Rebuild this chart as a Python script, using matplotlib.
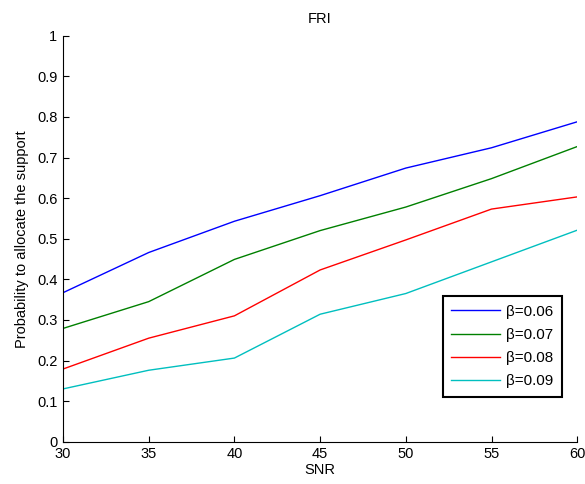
import matplotlib
matplotlib.use('Agg')
from matplotlib import pyplot as plt

snr = [30, 35, 40, 45, 50, 55, 60]
p_006 = [0.367, 0.466, 0.543, 0.606, 0.674, 0.724, 0.788]
p_007 = [0.279, 0.345, 0.449, 0.520, 0.578, 0.648, 0.727]
p_008 = [0.179, 0.255, 0.310, 0.423, 0.497, 0.573, 0.603]
p_009 = [0.130, 0.176, 0.206, 0.314, 0.365, 0.443, 0.521]
labels = ['β=0.06', 'β=0.07', 'β=0.08', 'β=0.09']
colors = ['#0000ff', '#008000', '#ff0000', '#00bfbf']

plt.rcParams['font.family'] = ['Liberation Sans', 'DejaVu Sans']
plt.rcParams['font.size'] = 10.5

fig = plt.figure(figsize=(5.85, 4.84), dpi=100)
ax = fig.add_axes([0.1077, 0.0874, 0.879, 0.8388])

for series, lab, col in zip([p_006, p_007, p_008, p_009], labels, colors):
    ax.plot(snr, series, color=col, lw=1.0, label=lab)

ax.set_xlim(30, 60)
ax.set_ylim(0, 1)
ax.set_xticks(range(30, 61, 5))
ax.set_yticks([i / 10 for i in range(11)])
ax.set_yticklabels(['0', '0.1', '0.2', '0.3', '0.4', '0.5', '0.6', '0.7', '0.8', '0.9', '1'])
ax.spines['top'].set_visible(False)
ax.spines['right'].set_visible(False)
ax.tick_params(direction='in', length=4, width=0.8, pad=4)
ax.set_title('FRI', fontsize=10.5, pad=9)
ax.set_xlabel('SNR', labelpad=1)
ax.set_ylabel('Probability to allocate the support', labelpad=6)

leg = ax.legend(loc='lower right', bbox_to_anchor=(0.9697, 0.111), borderaxespad=0,
                fancybox=False, edgecolor='black', framealpha=1, fontsize=11,
                handlelength=3.2, borderpad=0.55, labelspacing=0.6, handletextpad=0.4)
leg.get_frame().set_linewidth(1.5)

fig.savefig('out.png', dpi=100)
